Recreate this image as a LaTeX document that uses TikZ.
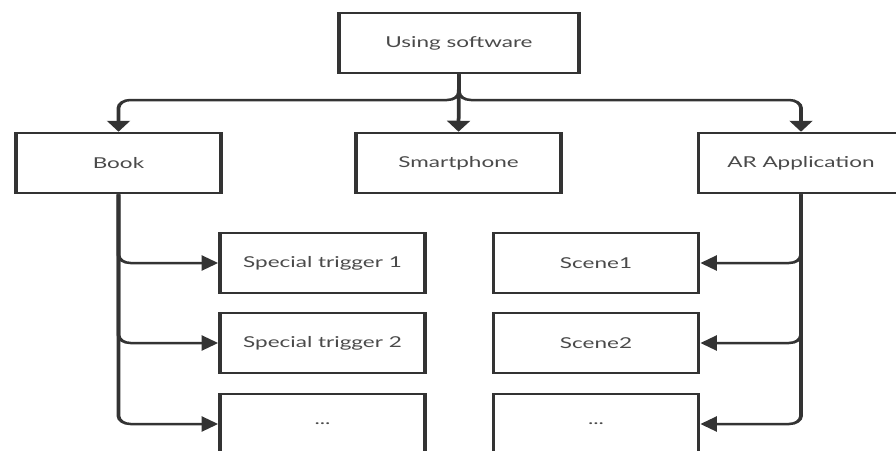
\documentclass[tikz,border=0pt]{standalone}
\usepackage{fontspec}
\setmainfont{Lato}
\usetikzlibrary{arrows.meta}
\definecolor{linec}{HTML}{333333}
\definecolor{textc}{HTML}{4A4A4A}
\begin{document}
\begin{tikzpicture}[x=1pt,y=-1pt,
  box/.style={draw=linec, line width=2.5pt, fill=white, minimum width=136.7pt,
    minimum height=60pt, inner sep=0pt, text=textc,
    font=\fontsize{15}{18}\selectfont},
  link/.style={draw=linec, line width=2.5pt, rounded corners=8pt,
    -{Triangle[length=11pt,width=15pt]}}]
\useasboundingbox (0,0) rectangle (896,450);
\clip (0,0) rectangle (896,450);

% the whole chart is laid out narrow and widened by one and a half
\begin{scope}[transform canvas={xscale=1.5}]
% top level
\node[box, minimum width=160pt] (top) at (306,43) {Using software};
\node[box] (book)  at (79,163)     {Book};
\node[box] (phone) at (305.67,163) {Smartphone};
\node[box] (ar)    at (534,163)    {AR Application};

% left column: triggers
\node[box] (trig1) at (215,263) {Special trigger 1};
\node[box] (trig2) at (215,343) {Special trigger 2};
\node[box] (trig3) at (215,424) {...};

% right column: scenes
\node[box] (scene1) at (397.33,263) {Scene1};
\node[box] (scene2) at (397.33,343) {Scene2};
\node[box] (scene3) at (397.33,424) {...};

% branching from the top box
\coordinate (split) at (306,100);
\draw[link] (top.south) -- (phone.north);
\draw[link] (top.south) -- (split) -| (book.north);
\draw[link] (top.south) -- (split) -| (ar.north);

% book to triggers
\draw[link] (book.south) |- (trig1.west);
\draw[link] (book.south) |- (trig2.west);
\draw[link] (book.south) |- (trig3.west);

% AR application to scenes
\draw[link] (ar.south) |- (scene1.east);
\draw[link] (ar.south) |- (scene2.east);
\draw[link] (ar.south) |- (scene3.east);
\end{scope}
\end{tikzpicture}
\end{document}
